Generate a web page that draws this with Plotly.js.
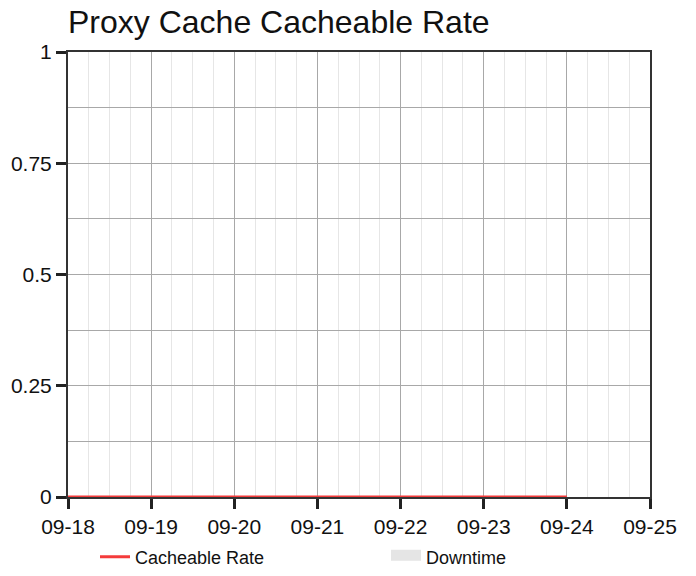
<!DOCTYPE html>
<html>
<head>
<meta charset="utf-8">
<script src="https://cdn.plot.ly/plotly-3.0.1.min.js"></script>
<style>html,body{margin:0;padding:0;background:#fff}#chart{width:696px;height:576px}</style>
</head>
<body>
<div id="chart"></div>
<script>
const rateDates = ['2023-09-18', '2023-09-19', '2023-09-20', '2023-09-21', '2023-09-22', '2023-09-23', '2023-09-24'];
const rateValues = [0, 0, 0, 0, 0, 0, 0];
const downtimeDates = [null];
const downtimeValues = [null];
const xRange = ['2023-09-18', '2023-09-25'];
const yTicks = [0, 0.25, 0.5, 0.75, 1];
const yTickLabels = ['0', '0.25', '0.5', '0.75', '1'];

const font = 'Liberation Sans, Arial, sans-serif';

const traces = [
  {
    x: rateDates, y: rateValues, type: 'scatter', mode: 'lines',
    name: 'Cacheable Rate',
    line: {color: '#f43b3b', width: 3},
    cliponaxis: false
  },
  {
    x: downtimeDates, y: downtimeValues, type: 'scatter', mode: 'lines',
    name: 'Downtime', fill: 'toself', fillcolor: '#e5e5e5',
    line: {color: '#e5e5e5', width: 13},
    showlegend: true
  }
];

const layout = {
  width: 696, height: 576,
  margin: {l: 68, r: 46, t: 52, b: 79},
  paper_bgcolor: '#fff', plot_bgcolor: '#fff',
  font: {family: font, size: 21, color: '#111'},
  title: {
    text: 'Proxy Cache Cacheable Rate',
    font: {family: font, size: 32, color: '#111'},
    x: 0, xref: 'paper', xanchor: 'left',
    y: 0.962, yref: 'container', yanchor: 'middle'
  },
  showlegend: true,
  legend: {
    orientation: 'h', x: 0.1365, xanchor: 'left', xref: 'container',
    y: 0.065, yref: 'container', yanchor: 'top',
    font: {family: font, size: 18, color: '#111'},
    entrywidth: 246, entrywidthmode: 'pixels',
    bgcolor: 'rgba(0,0,0,0)'
  },
  xaxis: {
    type: 'date', range: xRange,
    dtick: 86400000, tick0: '2023-09-18', tickformat: '%m-%d',
    showgrid: true, gridcolor: '#a8a8a8', gridwidth: 1,
    minor: {dtick: 21600000, showgrid: true, gridcolor: '#e6e6e6', gridwidth: 1},
    showline: true, linecolor: '#333', linewidth: 2, mirror: true,
    ticks: 'outside', ticklen: 10, tickwidth: 3, tickcolor: '#222',
    tickfont: {family: font, size: 21, color: '#111'},
    zeroline: false, layer: 'below traces', fixedrange: true
  },
  yaxis: {
    range: [0, 1], tickvals: yTicks, ticktext: yTickLabels,
    showgrid: true, gridcolor: '#a8a8a8', gridwidth: 1,
    minor: {dtick: 0.125, showgrid: true, gridcolor: '#a8a8a8', gridwidth: 1},
    showline: true, linecolor: '#333', linewidth: 2, mirror: true,
    ticks: 'outside', ticklen: 10, tickwidth: 3, tickcolor: '#222',
    tickfont: {family: font, size: 21, color: '#111'},
    zeroline: false, layer: 'below traces', fixedrange: true
  }
};

Plotly.newPlot('chart', traces, layout, {displayModeBar: false, staticPlot: true});
</script>
</body>
</html>
